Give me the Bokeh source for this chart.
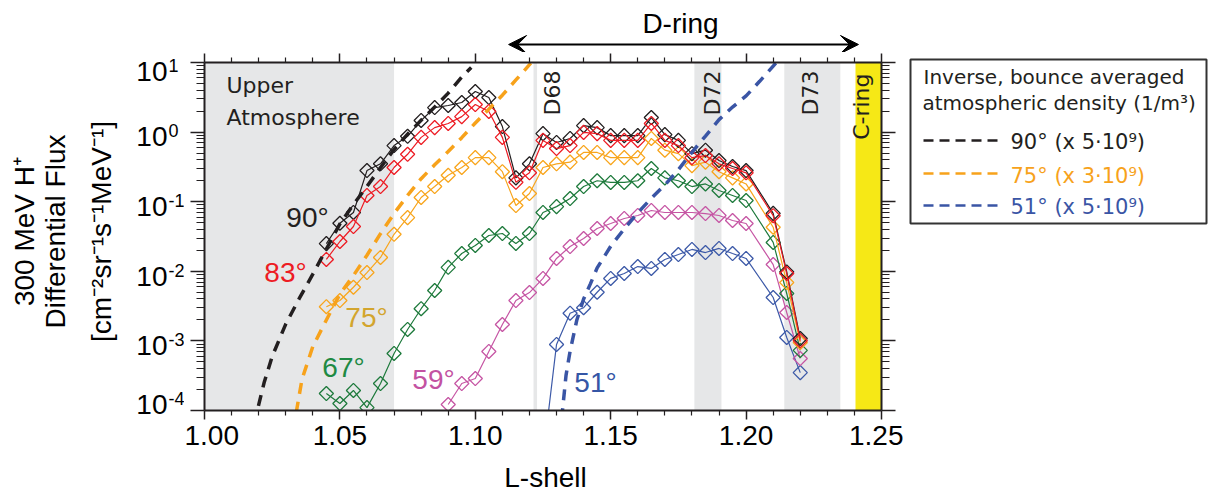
import numpy as np
from bokeh.plotting import figure
from bokeh.layouts import row, column
from bokeh.models import (FixedTicker, CustomJSTickFormatter, NumeralTickFormatter, LinearAxis, LogAxis,
                          BoxAnnotation, Label, Arrow, VeeHead, Range1d)
from bokeh.embed import file_html
from bokeh.resources import INLINE

# ---------------- data ----------------
L_MAIN = [1.045, 1.050, 1.055, 1.060, 1.065, 1.070, 1.075, 1.080, 1.085, 1.090, 1.095, 1.100,
          1.105, 1.110, 1.115, 1.120, 1.125, 1.130, 1.135, 1.140, 1.145, 1.150, 1.155, 1.160,
          1.165, 1.170, 1.175, 1.180, 1.185, 1.190, 1.195, 1.200, 1.210, 1.215, 1.220]
L_59 = [1.090, 1.095, 1.100, 1.105, 1.110, 1.115, 1.120, 1.125, 1.130, 1.135, 1.140, 1.145, 1.150,
        1.155, 1.160, 1.165, 1.170, 1.175, 1.180, 1.185, 1.190, 1.195, 1.200, 1.210, 1.215, 1.220]
L_51 = [1.125, 1.130, 1.135, 1.140, 1.145, 1.150, 1.155, 1.160, 1.165, 1.170, 1.175, 1.180,
        1.185, 1.190, 1.195, 1.200, 1.210, 1.215, 1.220]

flux_90 = [0.025, 0.049, 0.070, 0.28, 0.35, 0.64, 0.87, 1.47, 2.25, 2.41, 2.66, 3.83, 3.14, 1.20,
           0.22, 0.35, 0.95, 0.71, 0.81, 1.24, 1.16, 0.89, 0.89, 0.89, 1.62, 0.92, 0.76, 0.49,
           0.55, 0.39, 0.32, 0.28, 0.068, 0.0098, 0.00108]
flux_83 = [0.0148, 0.0268, 0.044, 0.123, 0.165, 0.31, 0.48, 0.84, 1.16, 1.33, 1.67, 2.49, 1.98,
           0.84, 0.19, 0.26, 0.76, 0.58, 0.64, 0.99, 0.95, 0.76, 0.76, 0.76, 1.33, 0.76, 0.64,
           0.43, 0.46, 0.35, 0.30, 0.26, 0.063, 0.0093, 0.00101]
flux_75 = [0.0031, 0.0038, 0.0059, 0.0096, 0.0158, 0.034, 0.059, 0.115, 0.165, 0.24, 0.31, 0.43,
           0.43, 0.27, 0.088, 0.131, 0.31, 0.35, 0.37, 0.51, 0.51, 0.43, 0.43, 0.43, 0.81, 0.55,
           0.49, 0.33, 0.37, 0.27, 0.22, 0.18, 0.043, 0.0069, 0.00095]
flux_67 = [0.000175, 0.000126, 0.000194, 0.000110, 0.000244, 0.00066, 0.00146, 0.0029, 0.0053,
           0.0114, 0.018, 0.0235, 0.0327, 0.0349, 0.0251, 0.0349, 0.070, 0.085, 0.111, 0.165,
           0.20, 0.189, 0.189, 0.20, 0.30, 0.22, 0.20, 0.165, 0.18, 0.145, 0.123, 0.104, 0.026,
           0.0048, 0.00073]
flux_59 = [0.000122, 0.000244, 0.000288, 0.000705, 0.00172, 0.0038, 0.00495, 0.0079, 0.0153,
           0.0227, 0.0296, 0.0412, 0.0486, 0.0574, 0.0634, 0.0748, 0.070, 0.070, 0.070, 0.0676,
           0.0634, 0.0537, 0.0486, 0.0125, 0.00256, 0.000558]
flux_51 = [2.1e-5, 0.00089, 0.0025, 0.0030, 0.0050, 0.0079, 0.0093, 0.0117, 0.0110, 0.0148,
           0.0174, 0.0206, 0.0186, 0.0213, 0.0180, 0.0153, 0.0042, 0.00112, 0.00035]

# inverse bounce-averaged atmospheric density (scaled)
L_dens_90 = [1.0185, 1.0195, 1.022, 1.025, 1.030, 1.035, 1.040, 1.045, 1.050, 1.055, 1.060,
             1.065, 1.070, 1.075, 1.080, 1.085, 1.090, 1.095, 1.0985]
dens_90 = [6.3e-5, 1.0e-4, 2.5e-4, 6.0e-4, 1.74e-3, 4.07e-3, 9.1e-3, 0.0209, 0.0479, 0.0912,
           0.166, 0.309, 0.562, 0.933, 1.48, 2.29, 3.63, 6.17, 8.5]
L_dens_75 = [1.033, 1.034, 1.036, 1.040, 1.045, 1.050, 1.055, 1.060, 1.065, 1.070, 1.075, 1.080,
             1.085, 1.090, 1.095, 1.100, 1.105, 1.110, 1.115, 1.1205]
dens_75 = [5.0e-5, 1.0e-4, 2.8e-4, 8.3e-4, 2.0e-3, 4.7e-3, 8.7e-3, 0.017, 0.0347, 0.0676, 0.123,
           0.214, 0.339, 0.525, 0.832, 1.35, 2.14, 3.39, 5.62, 9.77]
L_dens_51 = [1.1318, 1.1322, 1.1335, 1.135, 1.1375, 1.140, 1.1425, 1.145, 1.150, 1.155, 1.160,
             1.165, 1.170, 1.175, 1.180, 1.185, 1.190, 1.195, 1.200, 1.205, 1.2112]
dens_51 = [4.0e-5, 1.0e-4, 3.2e-4, 7.1e-4, 2.0e-3, 4.0e-3, 6.6e-3, 0.0112, 0.0229, 0.0407,
           0.0692, 0.112, 0.174, 0.288, 0.513, 0.877, 1.51, 2.29, 3.31, 5.37, 10.0]

# shaded regions (L-shell limits)
upper_atm = (1.000, 1.070)
ring_gaps = {"D68": (1.1215, 1.1228), "D72": (1.1809, 1.1909), "D73": (1.2141, 1.2348)}
c_ring = (1.2404, 1.250)
d_ring_span = (1.1123, 1.2415)

x_ticks = [1.00, 1.05, 1.10, 1.15, 1.20, 1.25]
x_minor = [1.01, 1.02, 1.03, 1.04, 1.06, 1.07, 1.08, 1.09, 1.11, 1.12, 1.13, 1.14, 1.16, 1.17,
           1.18, 1.19, 1.21, 1.22, 1.23, 1.24]
y_exps = [-4, -3, -2, -1, 0, 1]

# ---------------- geometry (page pixels) ----------------
FRAME_L, FRAME_T, FRAME_W, FRAME_H = 204, 62, 677, 348
X0, X1, E0, E1 = 1.0, 1.25, -4, 1
TOTAL_H = 492
LEFT_W = 184
P_BL, P_BR, P_BT, P_BB = FRAME_L - LEFT_W, 22, 10, 47
TOP_H = FRAME_T - P_BT
BOT_Y0 = FRAME_T + FRAME_H + P_BB
BOT_H = TOTAL_H - BOT_Y0
MID_W = P_BL + FRAME_W + P_BR
RIGHT_X0 = LEFT_W + MID_W
RIGHT_W = 1211 - RIGHT_X0
BASE_FIX = 0.3   # em shift to put the alphabetic baseline where wanted


def dx(xp):
    return X0 + (xp - FRAME_L) * (X1 - X0) / FRAME_W


def dy(yp):
    return 10 ** (E1 - (yp - FRAME_T) * (E1 - E0) / FRAME_H)


def text_fig(w, h, xr, yr):
    f = figure(width=w, height=h, x_range=Range1d(*xr), y_range=Range1d(*yr),
               x_axis_location=None, y_axis_location=None, min_border=0,
               toolbar_location=None, output_backend="svg")
    f.outline_line_color = None
    f.grid.visible = False
    return f


def label(f, x, y, text, size, color="black", font="Liberation Sans", align="left", angle=0.0,
          fx=None, fy=None):
    """x, y in page pixels (baseline point); fx/fy map page pixels to the figure's data."""
    if angle == 0.0:
        y = y - BASE_FIX * size
    else:
        x = x - BASE_FIX * size
    X = fx(x) if fx else x
    Y = fy(y) if fy else y
    f.add_layout(Label(x=X, y=Y, text=text, text_font=font, text_font_size=f"{size}px",
                       text_color=color, text_align=align, text_baseline="alphabetic",
                       angle=angle))


# ---------------- main plot ----------------
p = figure(frame_width=FRAME_W, frame_height=FRAME_H,
           min_border_left=P_BL, min_border_top=P_BT, min_border_right=P_BR, min_border_bottom=P_BB,
           x_range=Range1d(X0, X1), y_range=Range1d(10.0 ** E0, 10.0 ** E1), y_axis_type="log",
           output_backend="svg", toolbar_location=None)
p.grid.visible = False
p.outline_line_color = None

AX = "#231f20"
y_minor = [m * 10.0 ** k for k in range(E0, E1) for m in range(2, 10)]


def blank():
    return CustomJSTickFormatter(code="return ''")


def style_axis(ax, major, minor):
    ax.axis_line_width = 2
    ax.axis_line_color = AX
    ax.major_tick_line_color = AX
    ax.minor_tick_line_color = AX
    ax.major_tick_line_width = 1.5
    ax.minor_tick_line_width = 1.2
    ax.major_tick_in = 0
    ax.minor_tick_in = 0
    ax.major_tick_out = major
    ax.minor_tick_out = minor


def silence(ax):
    ax.formatter = blank()
    ax.major_label_text_font_size = "0px"
    ax.major_label_standoff = 0


xa = p.xaxis[0]
xa.ticker = FixedTicker(ticks=x_ticks, minor_ticks=x_minor)
xa.formatter = NumeralTickFormatter(format="0.00")
xa.major_label_text_font = "Liberation Sans"
xa.major_label_text_font_size = "28px"
xa.major_label_text_color = "black"
xa.major_label_standoff = 6
style_axis(xa, 9, 5)

ya = p.yaxis[0]
ya.ticker = FixedTicker(ticks=[10.0 ** k for k in y_exps], minor_ticks=y_minor)
silence(ya)
style_axis(ya, 14, 8)

top = LinearAxis(ticker=FixedTicker(ticks=x_ticks, minor_ticks=x_minor))
silence(top)
style_axis(top, 9, 5)
p.add_layout(top, "above")
right = LogAxis(ticker=FixedTicker(ticks=[10.0 ** k for k in y_exps], minor_ticks=y_minor))
silence(right)
style_axis(right, 14, 8)
p.add_layout(right, "right")

GRAY = "#e6e7e8"
p.add_layout(BoxAnnotation(left=upper_atm[0], right=upper_atm[1], fill_color=GRAY, fill_alpha=1,
                           line_color=None, level="underlay"))
for name, (a, b) in ring_gaps.items():
    p.add_layout(BoxAnnotation(left=a, right=b, fill_color=GRAY, fill_alpha=1, line_color=None,
                               level="underlay"))
p.add_layout(BoxAnnotation(left=c_ring[0], right=c_ring[1], fill_color="#f6e816", fill_alpha=1,
                           line_color=None, level="underlay"))

series = [
    (L_51, flux_51, "#3d5aa8"),
    (L_59, flux_59, "#c656a4"),
    (L_MAIN, flux_67, "#1e7a3c"),
    (L_MAIN, flux_75, "#f8a51c"),
    (L_MAIN, flux_90, "#231f20"),
    (L_MAIN, flux_83, "#ed1c24"),
]
for xs, ys, c in series:
    p.line(xs, ys, line_color=c, line_width=1.2)
    p.scatter(xs, ys, marker="square", angle=np.pi / 4, size=10, fill_color=None, line_color=c,
              line_width=1.3)

for xs, ys, c in [(L_dens_90, dens_90, "#231f20"), (L_dens_75, dens_75, "#f7a21b"),
                  (L_dens_51, dens_51, "#3a55a5")]:
    p.line(xs, ys, line_color=c, line_width=3.5, line_dash="11 8")

label(p, 226, 92, "Upper", 22, "#231f20", font="DejaVu Sans", fx=dx, fy=dy)
label(p, 226, 124, "Atmosphere", 22, "#231f20", font="DejaVu Sans", fx=dx, fy=dy)
for name, bx in [("D68", 559), ("D72", 719), ("D73", 817)]:
    label(p, bx, 70, name, 22, "#231f20", font="DejaVu Sans", align="right", angle=np.pi / 2,
          fx=dx, fy=dy)
label(p, 868, 73, "C-ring", 22, "#231f20", font="DejaVu Sans", align="right", angle=np.pi / 2,
      fx=dx, fy=dy)

for txt, cx, by, col in [("90\u00b0", 307, 225, "#231f20"), ("83\u00b0", 285, 280, "#ed1c24"),
                         ("75\u00b0", 366, 325, "#d3a52e"), ("67\u00b0", 343, 375, "#1e8a43"),
                         ("59\u00b0", 433, 387, "#c352a2"), ("51\u00b0", 595, 390, "#3556a6")]:
    label(p, cx, by, txt, 28, col, align="center", fx=dx, fy=dy)

# ---------------- left strip: y tick labels and y title ----------------
lf = text_fig(LEFT_W, TOTAL_H, (0, LEFT_W), (TOTAL_H, 0))
digit_centers = {1: 69, 0: 134, -1: 204, -2: 274, -3: 343, -4: 402}
for k in y_exps:
    c = digit_centers[k]
    label(lf, 167, c + 10, "10", 28, align="right")
    label(lf, 168, c + 1, str(k), 18)
label(lf, 32, 231, "300 MeV H\u207a", 28, align="center", angle=np.pi / 2)
label(lf, 63, 231, "Differential Flux", 28, align="center", angle=np.pi / 2)
label(lf, 109, 231, "[cm\u207b\u00b2sr\u207b\u00b9s\u207b\u00b9MeV\u207b\u00b9]", 28,
      align="center", angle=np.pi / 2)

# ---------------- top strip: D-ring arrow (frame aligned with the plot in the column) ----------------
tf = text_fig(MID_W, TOP_H, (X0, X1), (TOP_H, 0))
tf.add_layout(Arrow(x_start=d_ring_span[0], y_start=44, x_end=d_ring_span[1], y_end=44,
                    line_color="black", line_width=2,
                    start=VeeHead(size=18, fill_color="black", line_color="black"),
                    end=VeeHead(size=18, fill_color="black", line_color="black")))
label(tf, 680, 31, "D-ring", 28, align="center", fx=dx)

# ---------------- bottom strip: x title ----------------
bf = text_fig(MID_W, BOT_H, (X0, X1), (TOTAL_H, BOT_Y0))
label(bf, 545, 485, "L-shell", 28, align="center", fx=dx)

# ---------------- right strip: legend ----------------
rf = text_fig(RIGHT_W, TOTAL_H, (RIGHT_X0, RIGHT_X0 + RIGHT_W), (TOTAL_H, 0))
rf.quad(left=[910], right=[1206], top=[59], bottom=[223], fill_color=None,
        line_color="#333333", line_width=2)
label(rf, 923, 82, "Inverse, bounce averaged", 20, "#231f20", font="DejaVu Sans")
label(rf, 922, 108, "atmospheric density (1/m\u00b3)", 20, "#231f20", font="DejaVu Sans")
for yrow, base, txt, col in [(140, 148, "90\u00b0 (x 5\u00b710\u2079)", "#231f20"),
                             (173, 182, "75\u00b0 (x 3\u00b710\u2079)", "#f7a21b"),
                             (205, 213, "51\u00b0 (x 5\u00b710\u2079)", "#3a55a5")]:
    rf.line([923, 997], [yrow, yrow], line_color=col, line_width=2.5, line_dash="10 6")
    label(rf, 1010, base, txt, 21, col, font="DejaVu Sans")

layout = row(lf, column(tf, p, bf), rf)
open("out.html", "w").write(file_html(layout, INLINE))
